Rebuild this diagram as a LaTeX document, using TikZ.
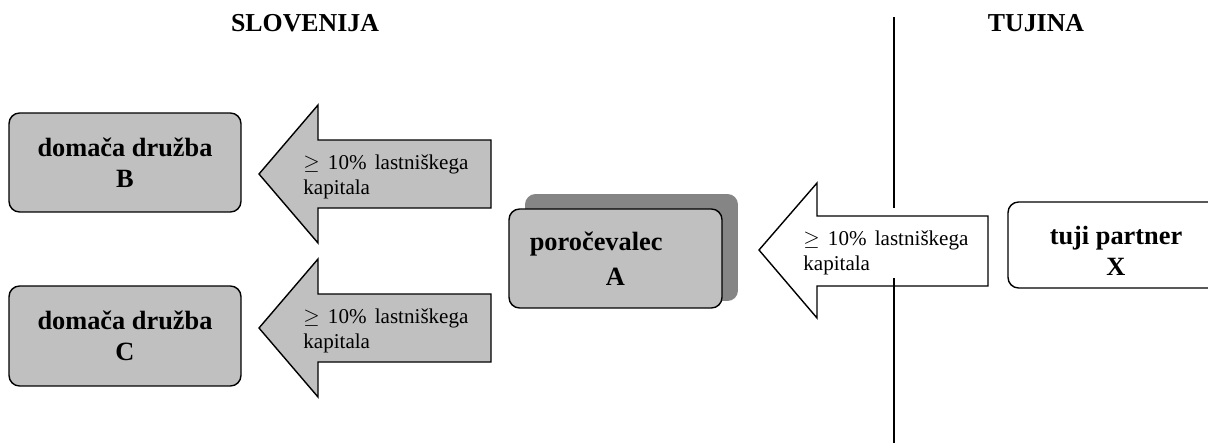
\documentclass[tikz,border=0pt]{standalone}
\usepackage{fontspec}
\setmainfont{Liberation Serif}
\definecolor{svetlosiva}{HTML}{C0C0C0}
\definecolor{temnosiva}{HTML}{858585}
\begin{document}
\begin{tikzpicture}[x=0.02cm,y=-0.02cm]
	% Nastavitve za okvirje
	\tikzset{okvir/.style={
			draw=black, % Crna obroba
			line width=0.8pt, % Debelina obrobe
			rounded corners=6pt, % Zaobljeni robovi
			align=center, % Besedilo na sredini
			font=\fontsize{15}{17.5}\selectfont\bfseries % Krepka pisava
	}}
	% Nastavitve za puscice in besedilo v njih
	\tikzset{puscica/.style={draw=black, line width=0.8pt, line join=miter}}
	\tikzset{opis/.style={inner sep=0pt, align=left, font=\fontsize{12}{14.2}\selectfont}}
	\useasboundingbox (0,0) rectangle (1208,443);

	% Naslova
	\node[inner sep=0pt, font=\fontsize{14.7}{17}\selectfont\bfseries] (slo) at (305,23.5) {SLOVENIJA};
	\node[inner sep=0pt, font=\fontsize{14.7}{17}\selectfont\bfseries] (tuj) at (1036,23.5) {TUJINA};

	% Domace druzbe
	\node[okvir, fill=svetlosiva, minimum width=4.64cm, minimum height=1.98cm] (B) at (125,162.5) {domača družba\\B};
	\node[okvir, fill=svetlosiva, minimum width=4.64cm, minimum height=2cm] (C) at (125,336) {domača družba\\C};

	% Sivi puscici proti B in C
	\foreach \dy/\ime in {0/tB, 154/tC} {
		\draw[puscica, fill=svetlosiva] (259,174+\dy) -- (318,105+\dy) -- (318,140+\dy) -- (491,140+\dy)
			-- (491,208+\dy) -- (318,208+\dy) -- (318,243+\dy) -- cycle;
		\node[opis, anchor=west] (\ime) at (303,177+\dy) {\makebox[94pt][s]{$\geq$ 10\% lastniškega}\\kapitala};
	}

	% Porocevalec s senco
	\node[okvir, fill=temnosiva, draw=none, minimum width=4.26cm, minimum height=2.14cm] (senca) at (631.5,247.5) {};
	\node[okvir, fill=svetlosiva, minimum width=4.26cm, minimum height=1.98cm] (A) at (615.5,258.5) {poročevalec\hspace*{22pt}\\[2.5pt]A};

	% Bela puscica od tujega partnerja
	\draw[puscica, fill=white] (759,250) -- (817,183) -- (817,216) -- (988,216)
		-- (988,286) -- (817,286) -- (817,318) -- cycle;
	\node[opis, anchor=west] (tX) at (803,253) {\makebox[94pt][s]{$\geq$ 10\% lastniškega}\\kapitala};

	% Meja med Slovenijo in tujino
	\coordinate (m1) at (894,17);
	\coordinate (m2) at (894,208);
	\coordinate (m3) at (894,278);
	\coordinate (m4) at (894,443);
	\draw[line width=1.1pt] (m1) -- (m2);
	\draw[line width=1.1pt] (m3) -- (m4);

	% Tuji partner
	\node[okvir, fill=white, minimum width=4.32cm, minimum height=1.72cm] (X) at (1116,245) {};
	\node[okvir, draw=none, rounded corners=0pt, inner sep=0pt] (tX2) at (1116,251) {tuji partner\\X};
\end{tikzpicture}
\end{document}
